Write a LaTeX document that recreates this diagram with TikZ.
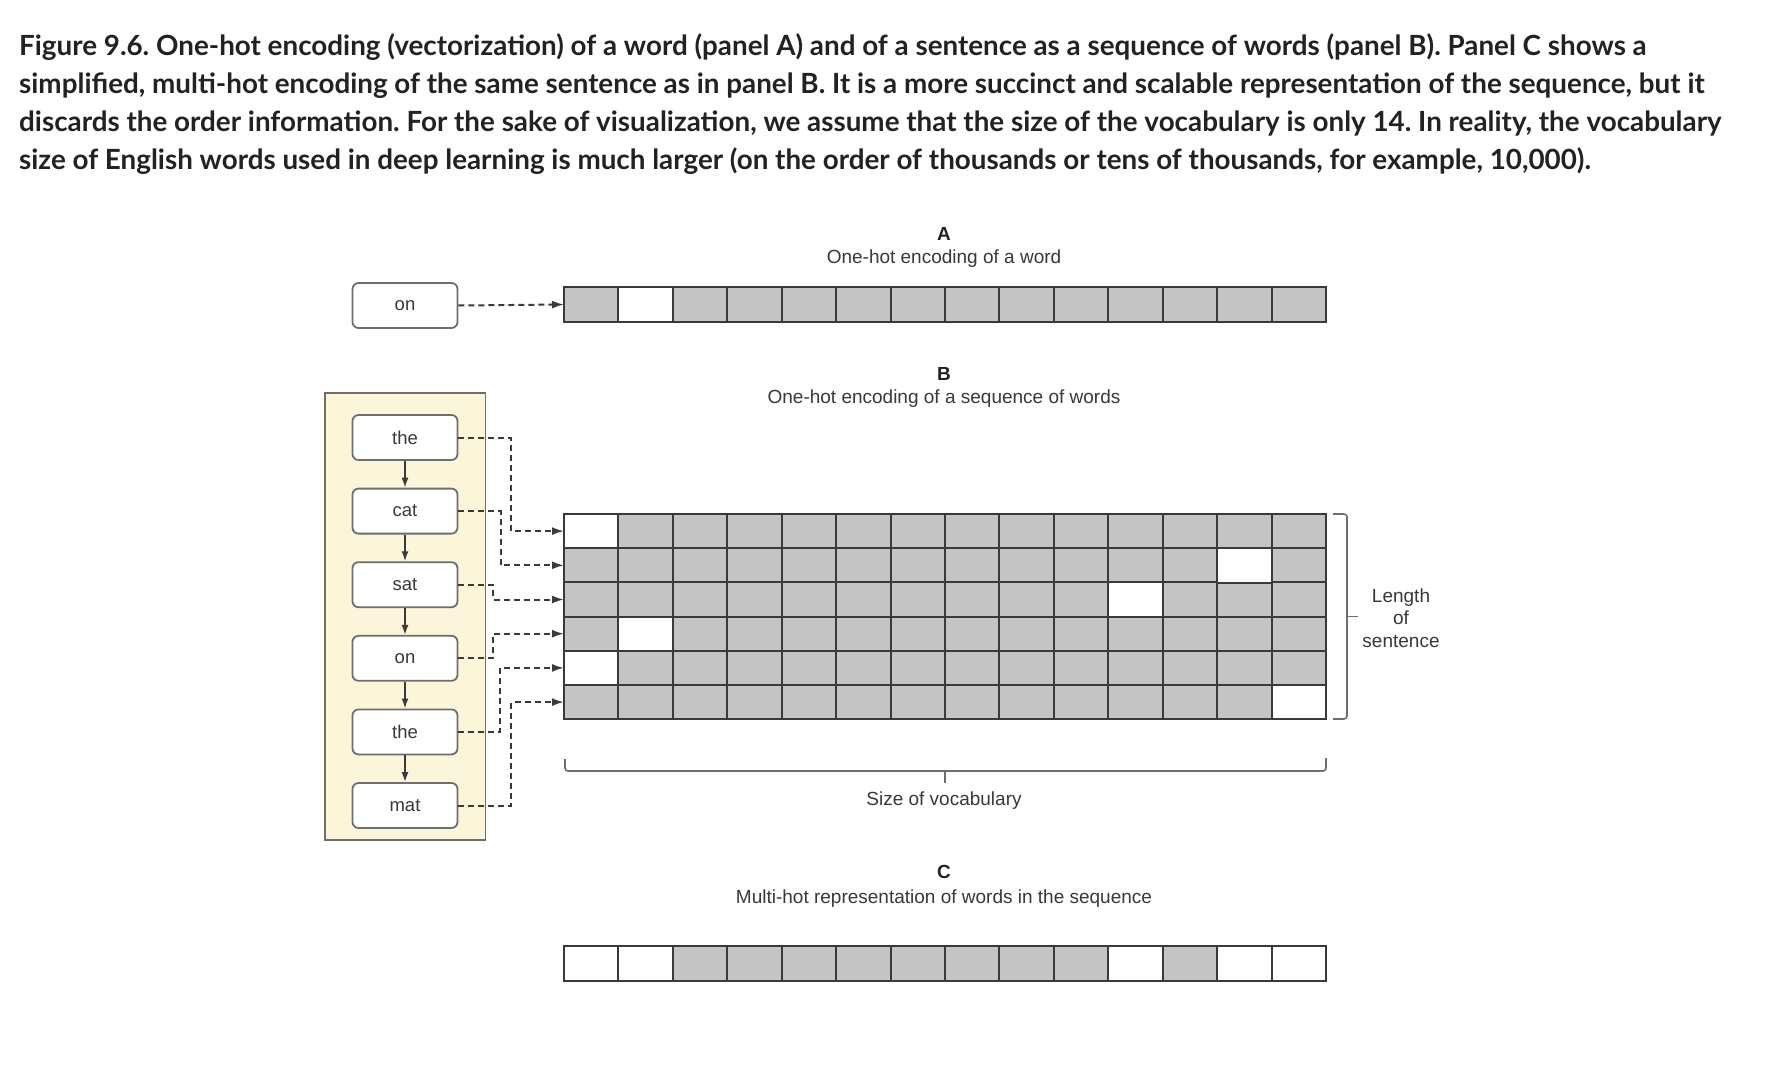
\documentclass[tikz,border=0pt]{standalone}
\usepackage{fontspec}
\setmainfont{Liberation Sans}
\newfontfamily\capfont{Lato}
\usepackage{xcolor}
\usepackage{tikz}
\usetikzlibrary{arrows.meta}
\usetikzlibrary{positioning}
\frenchspacing

\definecolor{cellgray}{HTML}{C4C4C4}
\definecolor{linegray}{HTML}{3A3A3A}
\definecolor{boxgray}{HTML}{6E6E6E}
\definecolor{textgray}{HTML}{383838}
\definecolor{panelyellow}{HTML}{FBF5D9}
\definecolor{capblack}{HTML}{222222}

\tikzset{
  cell/.style={draw=linegray, line width=2pt, fill=cellgray,
    minimum width=54.43pt, minimum height=34.4pt, inner sep=0pt, outer sep=0pt},
  hot/.style={fill=white},
  word/.style={draw=boxgray, line width=1.8pt, rounded corners=6pt, fill=white,
    minimum width=105pt, minimum height=45pt, inner sep=0pt,
    font=\fontsize{18.5}{21}\selectfont, text=textgray},
  wordlink/.style={dash pattern=on 6pt off 4pt, line width=2pt, draw=linegray,
    -{Latex[length=12pt,width=8pt]}},
  seqarrow/.style={line width=1.6pt, draw=linegray, -{Latex[length=10pt,width=7pt]}},
  brk/.style={line width=1.6pt, draw=boxgray, rounded corners=3pt},
  lbl/.style={font=\fontsize{19}{22.5}\selectfont, text=textgray, inner sep=0pt},
  ttl/.style={font=\bfseries\fontsize{19}{22}\selectfont, text=capblack, inner sep=0pt},
  capline/.style={anchor=base west, inner sep=0pt, text=capblack,
    font=\capfont\bfseries\fontsize{27.8}{37.7}\selectfont},
}

\begin{document}
\begin{tikzpicture}[x=1pt,y=1pt]
    \useasboundingbox[fill=white] (0,0) rectangle (1766,-1070);
    %
    % caption
    \node[capline] (cap1) at (19,-56) {Figure 9.6. One-hot encoding (vectorization) of a word (panel A) and of a sentence as a sequence of words (panel B). Panel C shows a};
    \node[capline] (cap2) at (19,-93.7) {simplified, multi-hot encoding of the same sentence as in panel B. It is a more succinct and scalable representation of the sequence, but it};
    \node[capline] (cap3) at (19,-131.4) {discards the order information. For the sake of visualization, we assume that the size of the vocabulary is only 14. In reality, the vocabulary};
    \node[capline] (cap4) at (19,-169.1) {size of English words used in deep learning is much larger (on the order of thousands or tens of thousands, for example, 10,000).};
    %
    % panel A
    \node[ttl] (titleA) at (944,-234) {A};
    \node[lbl] (subA) at (944,-259) {One-hot encoding of a word};
    \foreach \c in {1,...,14} {
      \node[cell] (a-\c) at ({564+54.43*(\c-0.5)},-304.5) {};
    }
    \node[cell,hot] at (a-2) {};
    \node[word] (onA) at (405,-305.5) {on};
    \draw[wordlink] (onA.east) -- (a-1.west);
    %
    % panel B
    \node[ttl] (titleB) at (944,-374) {B};
    \node[lbl] (subB) at (944,-399) {One-hot encoding of a sequence of words};
    \foreach \r in {1,...,6} {
      \foreach \c in {1,...,14} {
        \node[cell] (b-\r-\c) at ({564+54.43*(\c-0.5)},{-514-34.2*(\r-0.5)}) {};
      }
    }
    \foreach \r/\h in {1/1,2/13,3/11,4/2,5/1,6/14} {
      \node[cell,hot] at (b-\r-\h) {};
    }
    %
    \draw[line width=1.8pt, draw=boxgray, fill=panelyellow] (325,-393) rectangle (485.5,-840);
    \node[word] (w1) at (405,-437.5) {the};
    \node[word, below=26.8pt of w1] (w2) {cat};
    \node[word, below=26.8pt of w2] (w3) {sat};
    \node[word, below=26.8pt of w3] (w4) {on};
    \node[word, below=26.8pt of w4] (w5) {the};
    \node[word, below=26.8pt of w5] (w6) {mat};
    \foreach \i [count=\j from 2] in {1,...,5} {
      \draw[seqarrow] (w\i) -- (w\j);
    }
    %
    \draw[wordlink] (w1.east) -- ++(53,0) |- (b-1-1.west);
    \draw[wordlink] (w2.east) -- ++(42.5,0) |- (b-2-1.west);
    \draw[wordlink] (w3.east) -- ++(35,0) |- (b-3-1.west);
    \draw[wordlink] (w4.east) -- ++(35,0) |- (b-4-1.west);
    \draw[wordlink] (w5.east) -- ++(42,0) |- (b-5-1.west);
    \draw[wordlink] (w6.east) -- ++(53,0) |- (b-6-1.west);
    %
    \draw[brk] (1333,-514) -- (1347,-514) -- (1347,-719) -- (1333,-719);
    \draw[brk] (1347,-616.5) -- (1358,-616.5);
    \node[lbl, align=center] (lenlbl) at (1401,-618) {Length\\of\\sentence};
    %
    \draw[brk] (565,-759) -- (565,-771) -- (1326,-771) -- (1326,-758);
    \draw[brk] (945,-771) -- (945,-783);
    \node[lbl] (vocablbl) at (944,-800.5) {Size of vocabulary};
    %
    % panel C
    \node[ttl] (titleC) at (944,-872) {C};
    \node[lbl] (subC) at (944,-899) {Multi-hot representation of words in the sequence};
    \foreach \c in {1,...,14} {
      \node[cell, minimum height=35pt] (c-\c) at ({564+54.43*(\c-0.5)},-963.5) {};
    }
    \foreach \h in {1,2,11,13,14} {
      \node[cell,hot, minimum height=35pt] at (c-\h) {};
    }
\end{tikzpicture}
\end{document}
